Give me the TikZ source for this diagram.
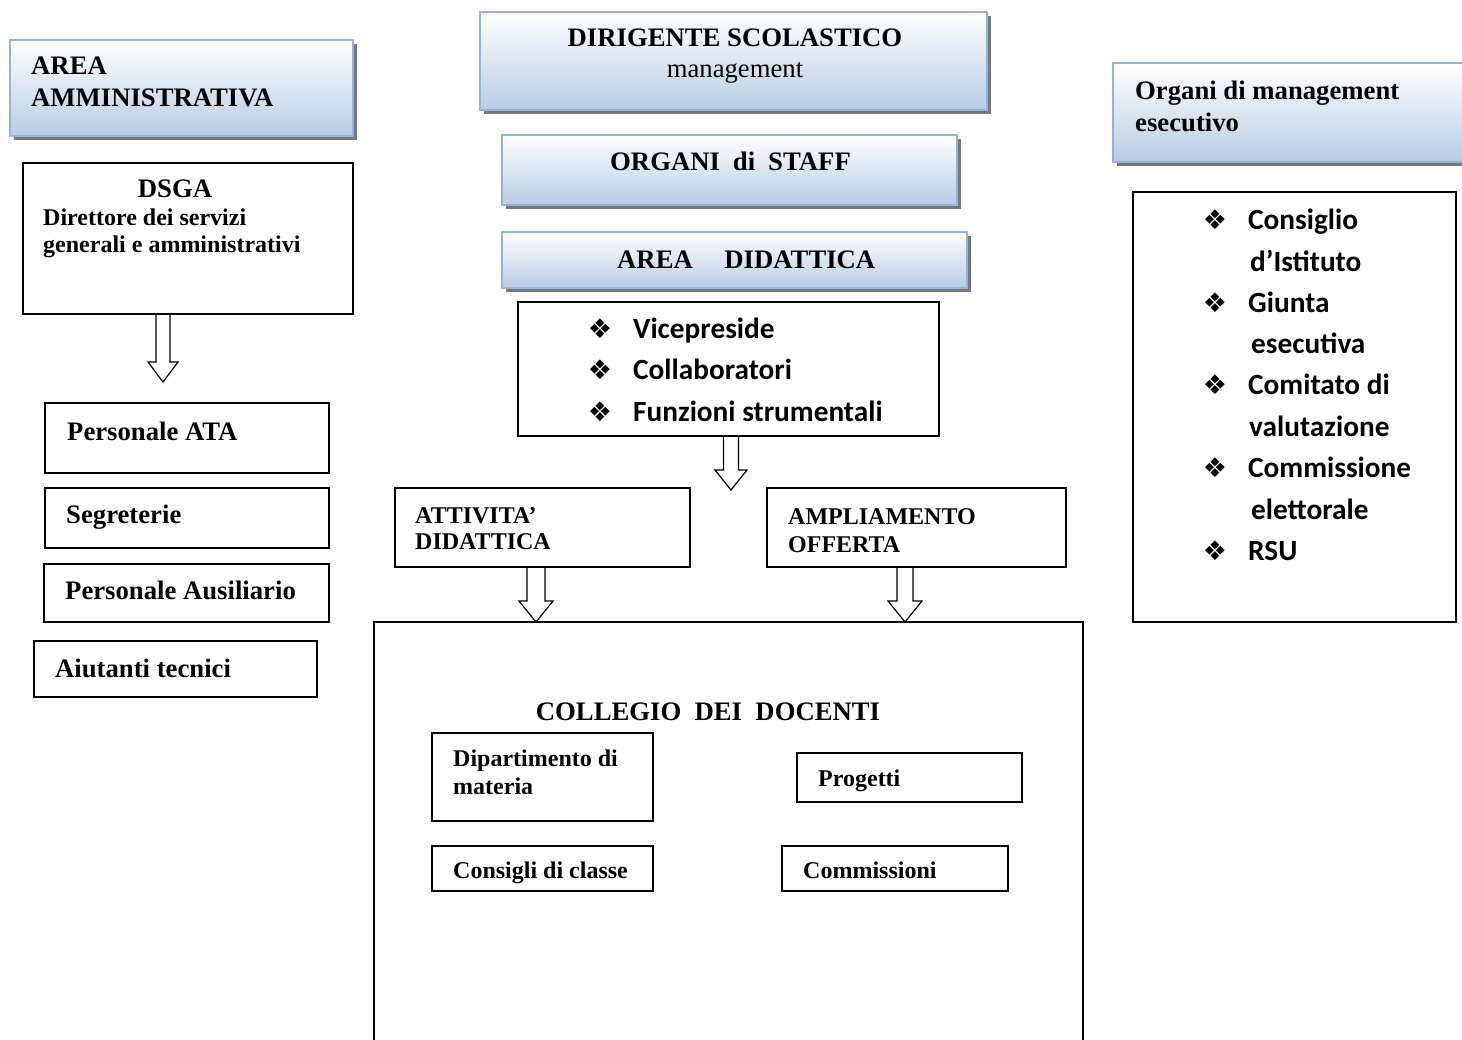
\documentclass[tikz,border=0pt]{standalone}
\usepackage{fontspec}
\setmainfont{Liberation Serif}
\newfontfamily\calib{Carlito}
\newfontfamily\djv{DejaVu Sans}
\usetikzlibrary{shadows,calc}
\pgfdeclarelayer{bg}
\pgfsetlayers{bg,main}
\definecolor{gborder}{RGB}{149,179,215}
\definecolor{gfill}{RGB}{184,204,228}
\definecolor{shadowc}{RGB}{120,120,120}
\tikzset{
 gbox/.style={draw=gborder, line width=2pt, top color=white, bottom color=gfill,
   drop shadow={shadow xshift=4pt, shadow yshift=-4pt, fill=shadowc, opacity=1},
   anchor=north west, inner sep=0pt, outer sep=0pt},
 bbox/.style={draw=black, line width=1.5pt, fill=white, anchor=north west, inner sep=0pt, outer sep=0pt},
 tl/.style={font=\fontsize{26.7}{32}\selectfont\bfseries, inner sep=0pt, anchor=base west},
 tc/.style={tl, anchor=base},
 ts/.style={font=\fontsize{24}{28}\selectfont\bfseries, inner sep=0pt, anchor=base west},
 tr/.style={font=\fontsize{26.7}{32}\selectfont, inner sep=0pt, anchor=base},
 cl/.style={font=\fontsize{29.3}{41}\selectfont\calib\bfseries, inner sep=0pt, anchor=base west},
 bul/.style={font=\fontsize{27}{30}\selectfont\djv, inner sep=0pt, anchor=base},
 harrow/.style={draw=black, line width=1.2pt, fill=white, line join=miter},
}
\newcommand\hollowarrow[5]{%
 \draw[harrow] let \p1=(#1), \p2=(#2) in
  (\x2-#3pt,\y1) -- (\x2-#3pt,\y2+#5pt) -- (\x2-#4pt,\y2+#5pt) -- (\x2,\y2)
  -- (\x2+#4pt,\y2+#5pt) -- (\x2+#3pt,\y2+#5pt) -- (\x2+#3pt,\y1);
}
\begin{document}
\begin{tikzpicture}[x=1pt,y=-1pt]
\useasboundingbox (0,0) rectangle (1462,1040);
\clip (0,0) rectangle (1462,1040);
% gradient header boxes
\node[gbox, minimum width=343pt, minimum height=96pt] (adm) at (10,40) {};
\node[gbox, minimum width=507pt, minimum height=98pt] (dir) at (480,12) {};
\node[gbox, minimum width=455pt, minimum height=70pt] (staff) at (502,135) {};
\node[gbox, minimum width=465pt, minimum height=56pt] (did) at (502,232) {};
\node[gbox, minimum width=400pt, minimum height=99pt] (mgmt) at (1113,63) {};
% plain boxes
\node[bbox, minimum width=330pt, minimum height=151pt] (dsga) at (23,163) {};
\node[bbox, minimum width=284pt, minimum height=70pt] (ata) at (45,403) {};
\node[bbox, minimum width=284pt, minimum height=60pt] (seg) at (45,488) {};
\node[bbox, minimum width=285pt, minimum height=58pt] (aus) at (44,564) {};
\node[bbox, minimum width=283pt, minimum height=56pt] (aiu) at (34,641) {};
\node[bbox, minimum width=421pt, minimum height=134pt] (vice) at (518,302) {};
\node[bbox, minimum width=295pt, minimum height=79pt] (att) at (395,488) {};
\node[bbox, minimum width=299pt, minimum height=79pt] (amp) at (767,488) {};
\node[bbox, minimum width=709pt, minimum height=450pt] (coll) at (374,622) {};
\node[bbox, minimum width=221pt, minimum height=88pt] (dip) at (432,733) {};
\node[bbox, minimum width=225pt, minimum height=49pt] (prog) at (797,753) {};
\node[bbox, minimum width=221pt, minimum height=45pt] (cons) at (432,846) {};
\node[bbox, minimum width=226pt, minimum height=45pt] (comm) at (782,846) {};
\node[bbox, minimum width=323pt, minimum height=430pt] (org) at (1133,192) {};
% arrows
\coordinate (tA) at (163,382);
\coordinate (tB) at (731,490);
\coordinate (tC) at (536,622);
\coordinate (tD) at (905,622);
\begin{pgfonlayer}{bg}
\hollowarrow{dsga.south -| tA}{tA}{7}{15}{20}
\hollowarrow{vice.south -| tB}{tB}{7.5}{16}{20}
\hollowarrow{att.south -| tC}{tC}{9}{17}{21}
\hollowarrow{amp.south -| tD}{tD}{8}{17}{21}
\end{pgfonlayer}
% texts
\node[tl] (admA) at (31,75) {AREA};
\node[tl] (admB) at (31,107) {AMMINISTRATIVA};
\node[tc] (dirA) at (735,47) {DIRIGENTE SCOLASTICO};
\node[tr] (dirB) at (735,78) {management};
\node[tl] (staffT) at (610,171) {ORGANI\hspace{13pt}di\hspace{13pt}STAFF};
\node[tl] (didT) at (617,269) {AREA\hspace{31.6pt}DIDATTICA};
\node[tl] (mgA) at (1135,100) {Organi di management};
\node[tl] (mgB) at (1135,132) {esecutivo};
\node[tc] (dsgaA) at (175,198) {DSGA};
\node[ts] (dsgaB) at (43,226) {Direttore dei servizi};
\node[ts] (dsgaC) at (43,253) {generali e amministrativi};
\node[tl] (ataT) at (67,440) {Personale ATA};
\node[tl] (segT) at (66,523) {Segreterie};
\node[tl] (ausT) at (65,599) {Personale Ausiliario};
\node[tl] (aiuT) at (55,677) {Aiutanti tecnici};
\node[bul] (vb1) at (600,339) {❖};
\node[cl] (v1) at (633,339) {Vicepreside};
\node[bul] (vb2) at (600,380) {❖};
\node[cl] (v2) at (633,380) {Collaboratori};
\node[bul] (vb3) at (600,421) {❖};
\node[cl] (v3) at (633,421) {Funzioni strumentali};
\node[ts] (attA) at (415,523) {ATTIVITA'};
\node[ts] (attB) at (415,549) {DIDATTICA};
\node[ts] (ampA) at (788,524) {AMPLIAMENTO};
\node[ts] (ampB) at (788,552) {OFFERTA};
\node[tc] (collT) at (708,720) {COLLEGIO~~DEI~~DOCENTI};
\node[ts] (dipA) at (453,766) {Dipartimento di};
\node[ts] (dipB) at (453,794) {materia};
\node[ts] (progT) at (818,786) {Progetti};
\node[ts] (consT) at (453,878) {Consigli di classe};
\node[ts] (commT) at (803,878) {Commissioni};
\node[bul] (ob1) at (1215,230) {❖};
\node[cl] (o1) at (1248,230) {Consiglio};
\node[cl] (o2) at (1250,272) {d’Istituto};
\node[bul] (ob3) at (1215,313) {❖};
\node[cl] (o3) at (1248,313) {Giunta};
\node[cl] (o4) at (1251,354) {esecutiva};
\node[bul] (ob5) at (1215,395) {❖};
\node[cl] (o5) at (1248,395) {Comitato di};
\node[cl] (o6) at (1249,436) {valutazione};
\node[bul] (ob7) at (1215,477) {❖};
\node[cl] (o7) at (1248,477) {Commissione};
\node[cl] (o8) at (1251,519) {elettorale};
\node[bul] (ob9) at (1215,560) {❖};
\node[cl] (o9) at (1248,560) {RSU};
\end{tikzpicture}
\end{document}
